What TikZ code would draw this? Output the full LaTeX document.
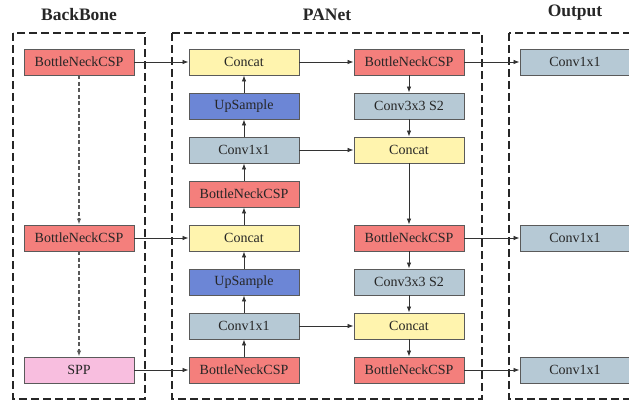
\documentclass[tikz,border=0pt]{standalone}
\usepackage{fontspec}
\setmainfont{Liberation Serif}
\usetikzlibrary{arrows.meta}
\definecolor{cred}{HTML}{F47F7C}
\definecolor{cyel}{HTML}{FFF4AE}
\definecolor{cblu}{HTML}{6C86D6}
\definecolor{cgry}{HTML}{B6C9D5}
\definecolor{cpnk}{HTML}{F8BEDF}
\definecolor{cedge}{HTML}{5A5A5A}
\tikzset{
  blk/.style={draw=cedge, line width=0.9pt, minimum width=110pt, minimum height=26pt, inner sep=0pt, font=\fontsize{14}{16}\selectfont, text=black!85},
  red/.style={blk, fill=cred},
  yel/.style={blk, fill=cyel},
  blu/.style={blk, fill=cblu},
  gry/.style={blk, fill=cgry},
  pnk/.style={blk, fill=cpnk},
  grp/.style={draw=black!85, line width=1.8pt, dash pattern=on 8pt off 4pt},
  arr/.style={draw=black!80, line width=0.8pt, -{Latex[length=6pt,width=4.5pt]}},
  darr/.style={arr, draw=black!65, line width=1.2pt, dash pattern=on 4pt off 2.5pt},
  ttl/.style={font=\bfseries\fontsize{17.5}{19}\selectfont, text=black!85}
}
\begin{document}
\begin{tikzpicture}[x=1pt,y=-1pt]
\useasboundingbox (0,0) rectangle (629,401);
\begin{scope}
\clip (0,0) rectangle (629,401);
% groups
\draw[grp] (13,33) rectangle (145,399);
\draw[grp] (172,33) rectangle (482,399);
\draw[grp] (509,33) rectangle (660,399);
\node[ttl] (tb) at (79,15) {BackBone};
\node[ttl] (tp) at (327,15) {PANet};
\node[ttl] (to) at (575,13) {Output};
% backbone
\node[red] (b1) at (79,62) {BottleNeckCSP};
\node[red] (b2) at (79,238) {BottleNeckCSP};
\node[pnk] (b3) at (79,370) {SPP};
% PANet left column
\node[yel] (l1) at (244,62) {Concat};
\node[blu] (l2) at (244,106) {UpSample};
\node[gry] (l3) at (244,150) {Conv1x1};
\node[red] (l4) at (244,194) {BottleNeckCSP};
\node[yel] (l5) at (244,238) {Concat};
\node[blu] (l6) at (244,282) {UpSample};
\node[gry] (l7) at (244,326) {Conv1x1};
\node[red] (l8) at (244,370) {BottleNeckCSP};
% PANet right column
\node[red] (r1) at (409,62) {BottleNeckCSP};
\node[gry] (r2) at (409,106) {Conv3x3 S2};
\node[yel] (r3) at (409,150) {Concat};
\node[red] (r5) at (409,238) {BottleNeckCSP};
\node[gry] (r6) at (409,282) {Conv3x3 S2};
\node[yel] (r7) at (409,326) {Concat};
\node[red] (r8) at (409,370) {BottleNeckCSP};
% output
\node[gry] (o1) at (575,62) {Conv1x1};
\node[gry] (o2) at (575,238) {Conv1x1};
\node[gry] (o3) at (575,370) {Conv1x1};
% backbone dashed
\draw[darr] (b1) -- (b2);
\draw[darr] (b2) -- (b3);
% backbone to PANet
\draw[arr] (b1) -- (l1);
\draw[arr] (b2) -- (l5);
\draw[arr] (b3) -- (l8);
% left column upwards
\draw[arr] (l8) -- (l7);
\draw[arr] (l7) -- (l6);
\draw[arr] (l6) -- (l5);
\draw[arr] (l5) -- (l4);
\draw[arr] (l4) -- (l3);
\draw[arr] (l3) -- (l2);
\draw[arr] (l2) -- (l1);
% across
\draw[arr] (l1) -- (r1);
\draw[arr] (l3) -- (r3);
\draw[arr] (l7) -- (r7);
% right column downwards
\draw[arr] (r1) -- (r2);
\draw[arr] (r2) -- (r3);
\draw[arr] (r3) -- (r5);
\draw[arr] (r5) -- (r6);
\draw[arr] (r6) -- (r7);
\draw[arr] (r7) -- (r8);
% outputs
\draw[arr] (r1) -- (o1);
\draw[arr] (r5) -- (o2);
\draw[arr] (r8) -- (o3);
\end{scope}
\end{tikzpicture}
\end{document}
